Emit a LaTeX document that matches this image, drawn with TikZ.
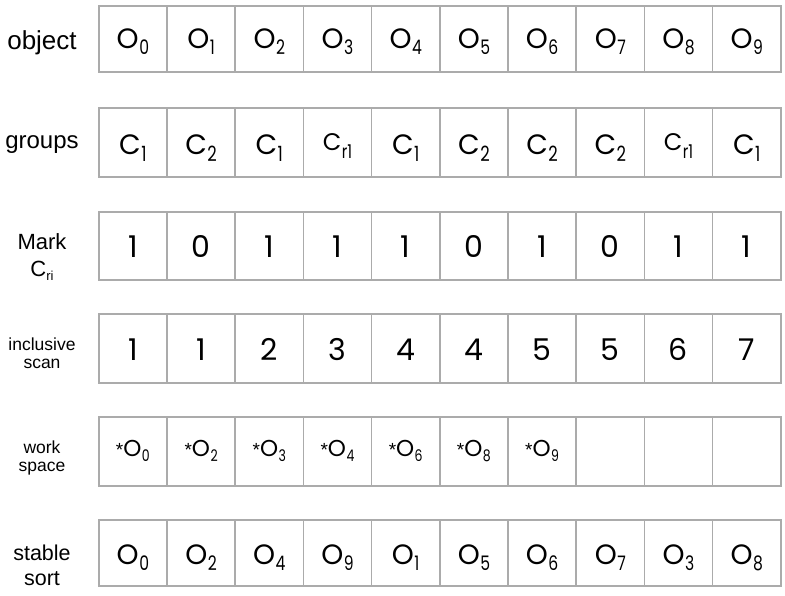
\documentclass[tikz,border=0pt]{standalone}
\usepackage{fontspec}
\setmainfont{Liberation Sans}
\newfontfamily\geo{Poppins}
\definecolor{linegray}{HTML}{ABABAB}
\newcommand{\Sb}[2]{\raisebox{#1}{\scalebox{0.78}[1]{#2}}}
\newcommand{\Ob}[1]{{\geo\fontsize{28}{30}\selectfont O\kern0.5pt\Sb{-6pt}{\fontsize{20}{22}\selectfont #1}}}
\newcommand{\Cb}[1]{{\geo\fontsize{28}{30}\selectfont C\kern0.5pt\Sb{-7pt}{\fontsize{21}{22}\selectfont #1}}}
\newcommand{\Crr}{\raisebox{4pt}{\geo\fontsize{24}{26}\selectfont C\kern0.5pt\Sb{-8pt}{\fontsize{19}{20}\selectfont r1}}}
\newcommand{\Wb}[1]{{\fontsize{19}{20}\selectfont *}{\geo\fontsize{23}{26}\selectfont O\kern0.5pt\Sb{-5pt}{\fontsize{16}{16}\selectfont #1}}}
\newcommand{\Dg}[1]{{\geo\fontsize{30}{32}\selectfont #1}}
\begin{document}
\begin{tikzpicture}[x=1pt,y=-1pt,
  cell/.style={draw=linegray, line width=1.6pt, minimum width=68.2pt, inner sep=0pt, anchor=north west},
  celltext/.style={anchor=base, inner sep=0pt},
  lbl/.style={anchor=base, inner sep=0pt}]
\useasboundingbox (0,0) rectangle (785,596);
% cells
\foreach \r/\top/\h in {obj/5/66, grp/107/69, mrk/211/68, scn/313/69, wks/416/69, srt/519/66} {
  \foreach \i in {0,...,9} {
    \node[cell, minimum height=\h pt] (\r\i) at ({98+68.2*\i},\top) {};
  }
}
% row labels
\node[lbl, font=\fontsize{26}{28}\selectfont] (l-obj) at (42,50) {object};
\node[lbl, font=\fontsize{24}{26}\selectfont] (l-grp) at (42,149) {groups};
\node[lbl, font=\fontsize{22}{24}\selectfont] (l-mrk1) at (42,250) {Mark};
\node[lbl, font=\fontsize{22}{24}\selectfont] (l-mrk2) at (42,277) {C\raisebox{-4pt}{\fontsize{13}{14}\selectfont ri}};
\node[lbl, font=\fontsize{17.5}{20}\selectfont] (l-scn1) at (42,350) {inclusive};
\node[lbl, font=\fontsize{17.5}{20}\selectfont] (l-scn2) at (42,368) {scan};
\node[lbl, font=\fontsize{17.5}{20}\selectfont] (l-wks1) at (42,453) {work};
\node[lbl, font=\fontsize{17.5}{20}\selectfont] (l-wks2) at (42,471) {space};
\node[lbl, font=\fontsize{21.5}{24}\selectfont] (l-srt1) at (42,560) {stable};
\node[lbl, font=\fontsize{21.5}{24}\selectfont] (l-srt2) at (42,585) {sort};
% object row
\foreach \i in {0,...,9} {
  \node[celltext, yshift=-10pt] (obj-t\i) at (obj\i.center) {\Ob{\i}};
}
% groups row
\foreach \i/\t in {0/{\Cb{1}}, 1/{\Cb{2}}, 2/{\Cb{1}}, 3/{\Crr}, 4/{\Cb{1}}, 5/{\Cb{2}}, 6/{\Cb{2}}, 7/{\Cb{2}}, 8/{\Crr}, 9/{\Cb{1}}} {
  \node[celltext, yshift=-12pt] (grp-t\i) at (grp\i.center) {\t};
}
% mark row
\foreach \i/\t in {0/1, 1/0, 2/1, 3/1, 4/1, 5/0, 6/1, 7/0, 8/1, 9/1} {
  \node[celltext, yshift=-11.5pt] (mrk-t\i) at (mrk\i.center) {\Dg{\t}};
}
% inclusive scan row
\foreach \i/\t in {0/1, 1/1, 2/2, 3/3, 4/4, 5/4, 6/5, 7/5, 8/6, 9/7} {
  \node[celltext, yshift=-12pt] (scn-t\i) at (scn\i.center) {\Dg{\t}};
}
% work space row
\foreach \i/\t in {0/0, 1/2, 2/3, 3/4, 4/6, 5/8, 6/9} {
  \node[celltext, yshift=-5pt] (wks-t\i) at (wks\i.center) {\Wb{\t}};
}
% stable sort row
\foreach \i/\t in {0/0, 1/2, 2/4, 3/9, 4/1, 5/5, 6/6, 7/7, 8/3, 9/8} {
  \node[celltext, yshift=-12pt] (srt-t\i) at (srt\i.center) {\Ob{\t}};
}
\end{tikzpicture}
\end{document}
